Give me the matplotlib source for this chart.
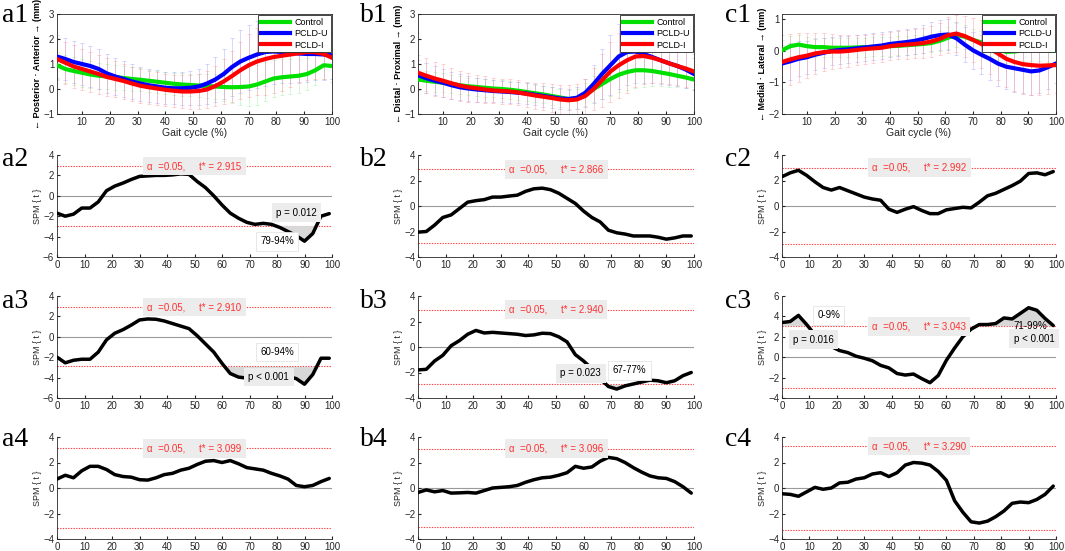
import numpy as np
import matplotlib
matplotlib.use("Agg")
import matplotlib.pyplot as plt

plt.rcParams['font.family'] = ['Liberation Sans', 'DejaVu Sans']
plt.rcParams['font.size'] = 7
plt.rcParams['axes.linewidth'] = 0.6
plt.rcParams['xtick.direction'] = 'in'
plt.rcParams['ytick.direction'] = 'in'
plt.rcParams['xtick.major.size'] = 2
plt.rcParams['ytick.major.size'] = 2
plt.rcParams['xtick.color'] = '#262626'
plt.rcParams['ytick.color'] = '#262626'
plt.rcParams['axes.edgecolor'] = '#262626'

# ---------------- data: top row (mean +/- SD, gait cycle 1..100) ----------------
gait = np.arange(1, 101, 3)
groups = ['Control', 'PCLD-U', 'PCLD-I']

a1_ctrl = [0.95, 0.8, 0.72, 0.65, 0.58, 0.53, 0.5, 0.48, 0.44, 0.4, 0.37, 0.33, 0.29, 0.25, 0.21, 0.18, 0.16,
           0.14, 0.12, 0.1, 0.08, 0.07, 0.08, 0.1, 0.18, 0.3, 0.42, 0.47, 0.5, 0.53, 0.6, 0.75, 0.95, 0.92]
a1_u = [1.3, 1.2, 1.08, 1.0, 0.92, 0.8, 0.62, 0.5, 0.4, 0.3, 0.22, 0.15, 0.1, 0.05, 0.03, 0.03, 0.05,
        0.1, 0.22, 0.38, 0.6, 0.88, 1.1, 1.25, 1.38, 1.48, 1.5, 1.48, 1.45, 1.42, 1.4, 1.4, 1.38, 1.35]
a1_i = [1.2, 1.05, 0.9, 0.8, 0.7, 0.6, 0.48, 0.4, 0.32, 0.22, 0.13, 0.07, 0.02, -0.03, -0.07, -0.1, -0.1,
        -0.08, -0.02, 0.12, 0.3, 0.52, 0.75, 0.95, 1.1, 1.2, 1.28, 1.33, 1.38, 1.43, 1.48, 1.47, 1.4, 1.25]
a1_ctrl_sd = [0.55, 0.55, 0.55, 0.55, 0.55, 0.52, 0.5, 0.5, 0.48, 0.47, 0.46, 0.45, 0.45, 0.45, 0.45, 0.45, 0.45,
              0.46, 0.48, 0.5, 0.55, 0.62, 0.7, 0.78, 0.8, 0.78, 0.75, 0.72, 0.7, 0.68, 0.65, 0.6, 0.55, 0.5]
a1_u_sd = [0.85, 0.85, 0.85, 0.83, 0.82, 0.8, 0.78, 0.75, 0.72, 0.7, 0.68, 0.66, 0.65, 0.64, 0.64, 0.65, 0.67,
           0.72, 0.8, 0.9, 1.0, 1.15, 1.25, 1.3, 1.35, 1.35, 1.3, 1.25, 1.2, 1.15, 1.1, 1.05, 1.0, 0.95]
a1_i_sd = [0.85, 0.85, 0.85, 0.82, 0.8, 0.78, 0.75, 0.72, 0.7, 0.68, 0.67, 0.66, 0.65, 0.65, 0.65, 0.66, 0.68,
           0.7, 0.74, 0.8, 0.9, 1.02, 1.15, 1.25, 1.35, 1.45, 1.45, 1.4, 1.3, 1.2, 1.1, 1.05, 1.0, 0.95]

b1_ctrl = [0.38, 0.33, 0.29, 0.25, 0.2, 0.15, 0.11, 0.08, 0.05, 0.02, 0.0, -0.03, -0.07, -0.12, -0.17, -0.22, -0.28,
           -0.34, -0.4, -0.38, -0.22, 0.0, 0.2, 0.4, 0.57, 0.68, 0.75, 0.75, 0.72, 0.66, 0.6, 0.53, 0.46, 0.38]
b1_u = [0.55, 0.43, 0.33, 0.25, 0.15, 0.07, 0.02, -0.02, -0.05, -0.08, -0.1, -0.12, -0.15, -0.18, -0.23, -0.28, -0.33,
        -0.38, -0.4, -0.35, -0.15, 0.2, 0.6, 0.95, 1.3, 1.48, 1.5, 1.4, 1.28, 1.15, 1.03, 0.92, 0.78, 0.6]
b1_i = [0.65, 0.53, 0.42, 0.33, 0.23, 0.14, 0.07, 0.03, -0.02, -0.06, -0.08, -0.1, -0.14, -0.2, -0.26, -0.31, -0.36,
        -0.42, -0.45, -0.42, -0.28, 0.0, 0.35, 0.7, 0.95, 1.15, 1.3, 1.32, 1.25, 1.15, 1.03, 0.92, 0.82, 0.7]
b1_ctrl_sd = [0.4, 0.4, 0.4, 0.38, 0.37, 0.36, 0.35, 0.35, 0.35, 0.35, 0.35, 0.35, 0.35, 0.35, 0.35, 0.35, 0.35,
              0.36, 0.38, 0.4, 0.45, 0.52, 0.6, 0.66, 0.7, 0.72, 0.7, 0.65, 0.6, 0.55, 0.5, 0.46, 0.43, 0.4]
b1_u_sd = [0.6, 0.6, 0.58, 0.56, 0.54, 0.52, 0.5, 0.48, 0.46, 0.44, 0.42, 0.42, 0.42, 0.42, 0.42, 0.42, 0.42,
           0.42, 0.42, 0.45, 0.55, 0.75, 1.0, 1.2, 1.3, 1.3, 1.25, 1.15, 1.05, 0.95, 0.88, 0.8, 0.72, 0.65]
b1_i_sd = [0.7, 0.7, 0.68, 0.66, 0.63, 0.6, 0.58, 0.55, 0.53, 0.5, 0.5, 0.5, 0.5, 0.5, 0.52, 0.54, 0.56,
           0.58, 0.6, 0.62, 0.7, 0.85, 1.05, 1.2, 1.3, 1.3, 1.22, 1.12, 1.0, 0.9, 0.82, 0.76, 0.72, 0.7]

c1_ctrl = [0.02, 0.15, 0.2, 0.15, 0.12, 0.12, 0.1, 0.1, 0.1, 0.11, 0.12, 0.13, 0.14, 0.15, 0.16, 0.18, 0.2,
           0.22, 0.25, 0.32, 0.42, 0.5, 0.45, 0.35, 0.27, 0.18, 0.05, -0.03, -0.02, 0.02, 0.04, 0.03, 0.01, 0.0]
c1_u = [-0.4, -0.33, -0.25, -0.2, -0.12, -0.06, 0.0, 0.03, 0.05, 0.08, 0.11, 0.14, 0.17, 0.22, 0.25, 0.28, 0.32,
        0.38, 0.45, 0.5, 0.52, 0.4, 0.2, 0.02, -0.12, -0.25, -0.4, -0.5, -0.55, -0.6, -0.65, -0.62, -0.52, -0.4]
c1_i = [-0.35, -0.27, -0.2, -0.15, -0.08, -0.04, -0.02, -0.02, 0.0, 0.03, 0.06, 0.08, 0.1, 0.15, 0.18, 0.2, 0.22,
        0.25, 0.3, 0.38, 0.5, 0.55, 0.47, 0.35, 0.22, 0.08, -0.08, -0.25, -0.35, -0.42, -0.45, -0.47, -0.46, -0.45]
c1_ctrl_sd = [0.32, 0.32, 0.32, 0.3, 0.3, 0.3, 0.3, 0.3, 0.3, 0.3, 0.3, 0.3, 0.3, 0.3, 0.3, 0.3, 0.3,
              0.3, 0.3, 0.32, 0.35, 0.38, 0.38, 0.36, 0.35, 0.35, 0.35, 0.35, 0.35, 0.35, 0.35, 0.35, 0.35, 0.35]
c1_u_sd = [0.6, 0.58, 0.55, 0.52, 0.5, 0.48, 0.45, 0.44, 0.42, 0.42, 0.42, 0.42, 0.42, 0.42, 0.42, 0.42, 0.42,
           0.44, 0.46, 0.48, 0.5, 0.52, 0.55, 0.58, 0.62, 0.66, 0.7, 0.72, 0.74, 0.75, 0.75, 0.72, 0.68, 0.62]
c1_i_sd = [0.85, 0.82, 0.78, 0.72, 0.66, 0.6, 0.55, 0.52, 0.5, 0.48, 0.46, 0.45, 0.45, 0.45, 0.45, 0.45, 0.46,
           0.48, 0.5, 0.52, 0.56, 0.6, 0.65, 0.7, 0.75, 0.8, 0.85, 0.9, 0.93, 0.95, 0.95, 0.92, 0.9, 0.88]

# ---------------- data: SPM{t} curves (gait cycle 0..99) ----------------
spm_x = np.arange(0, 100, 3)

a2_t = [-1.7, -2.0, -1.8, -1.2, -1.2, -0.6, 0.5, 0.95, 1.25, 1.6, 1.9, 1.95, 2.0, 2.0, 2.05, 2.15, 2.1,
        1.4, 0.8, 0.0, -0.9, -1.7, -2.2, -2.6, -2.8, -2.7, -2.8, -3.1, -3.5, -3.9, -4.45, -3.7, -2.0, -1.75]
a3_t = [-2.0, -2.55, -2.3, -2.2, -2.2, -1.5, -0.3, 0.35, 0.7, 1.15, 1.65, 1.75, 1.72, 1.55, 1.3, 1.05, 0.8,
        0.1, -0.7, -1.5, -2.6, -3.6, -3.95, -4.05, -4.1, -4.05, -4.0, -3.95, -3.9, -4.1, -4.65, -3.7, -2.1, -2.1]
a4_t = [0.7, 1.0, 0.8, 1.35, 1.7, 1.7, 1.45, 1.05, 0.9, 0.85, 0.65, 0.62, 0.8, 1.05, 1.15, 1.4, 1.55,
        1.85, 2.1, 2.15, 2.0, 2.15, 1.9, 1.6, 1.5, 1.4, 1.15, 0.95, 0.7, 0.2, 0.1, 0.2, 0.5, 0.75]
b2_t = [-2.05, -2.0, -1.5, -0.9, -0.7, -0.2, 0.3, 0.42, 0.5, 0.7, 0.7, 0.78, 0.85, 1.15, 1.35, 1.4, 1.28,
        1.0, 0.6, 0.2, -0.4, -0.9, -1.25, -1.9, -2.1, -2.2, -2.35, -2.35, -2.35, -2.45, -2.6, -2.5, -2.35, -2.35]
b3_t = [-1.8, -1.75, -1.1, -0.65, 0.1, 0.5, 1.0, 1.3, 1.1, 1.15, 1.1, 1.05, 1.0, 0.9, 0.95, 1.08, 1.05,
        0.8, 0.4, -0.6, -1.1, -1.7, -2.5, -3.1, -3.3, -3.05, -2.9, -2.75, -2.6, -2.65, -2.8, -2.65, -2.25, -2.0]
b4_t = [-0.35, -0.15, -0.3, -0.2, -0.4, -0.38, -0.35, -0.4, -0.2, 0.0, 0.05, 0.1, 0.2, 0.45, 0.65, 0.8, 0.85,
        1.0, 1.2, 1.7, 1.55, 1.65, 2.1, 2.4, 2.3, 2.0, 1.6, 1.25, 0.95, 0.8, 0.75, 0.5, 0.1, -0.4]
c2_t = [2.3, 2.6, 2.8, 2.4, 1.9, 1.45, 1.25, 1.45, 1.2, 0.95, 0.7, 0.55, 0.45, -0.25, -0.5, -0.25, -0.05,
        -0.35, -0.6, -0.6, -0.3, -0.2, -0.1, -0.15, 0.3, 0.8, 1.0, 1.3, 1.6, 1.95, 2.55, 2.6, 2.45, 2.7]
c3_t = [3.4, 3.5, 4.1, 3.2, 2.2, 1.5, 1.05, 0.65, 0.45, 0.1, -0.1, -0.35, -0.8, -1.05, -1.6, -1.75, -1.65,
        -2.1, -2.5, -1.8, -0.3, 0.9, 2.0, 2.75, 3.2, 3.2, 3.3, 3.85, 3.75, 4.3, 4.85, 4.6, 3.8, 3.1]
c4_t = [-0.45, -0.5, -0.65, -0.3, 0.05, -0.1, 0.0, 0.4, 0.45, 0.7, 0.8, 1.1, 1.2, 0.9, 1.2, 1.8, 2.0,
        1.95, 1.8, 1.3, 0.6, -1.0, -1.9, -2.65, -2.75, -2.6, -2.25, -1.8, -1.2, -1.1, -1.15, -0.9, -0.5, 0.15]

t_crit = {'a2': 2.915, 'a3': 2.910, 'a4': 3.099,
          'b2': 2.866, 'b3': 2.940, 'b4': 3.096,
          'c2': 2.992, 'c3': 3.043, 'c4': 3.290}

colors = ['#00e000', '#0000ff', '#ff0000']
bar_colors = ['#a0f0a0', '#a8a8ff', '#ffa0a0']

W, H = 1065, 551
fig = plt.figure(figsize=(W / 100, H / 100), dpi=100)

col_left = [57, 418, 782]
col_width = [275, 276, 274]
row_top = [14, 155, 296, 437]
row_bottom = [114, 257, 398, 539]


def make_ax(col, row):
    l = col_left[col] / W
    b = 1 - row_bottom[row] / H
    return fig.add_axes([l, b, col_width[col] / W, (row_bottom[row] - row_top[row]) / H])


# ---------------- top row ----------------
top_data = [
    ([a1_ctrl, a1_u, a1_i], [a1_ctrl_sd, a1_u_sd, a1_i_sd], (-1, 3), [-1, 0, 1, 2, 3],
     '← Posterior · Anterior → (mm)'),
    ([b1_ctrl, b1_u, b1_i], [b1_ctrl_sd, b1_u_sd, b1_i_sd], (-1, 3), [-1, 0, 1, 2, 3],
     '← Distal · Proximal → (mm)'),
    ([c1_ctrl, c1_u, c1_i], [c1_ctrl_sd, c1_u_sd, c1_i_sd], (-2, 1.17), [-2, -1, 0, 1],
     '← Medial · Lateral → (mm)'),
]

for col, (means, sds, ylim, yticks, ylabel) in enumerate(top_data):
    ax = make_ax(col, 0)
    for m, s, bc in zip(means, sds, bar_colors):
        ax.errorbar(gait, m, yerr=s, fmt='none', ecolor=bc, elinewidth=0.6,
                    capsize=1.5, capthick=0.6, alpha=0.55, zorder=1)
    for m, c, g in zip(means, colors, groups):
        ax.plot(gait, m, color=c, lw=3, label=g, zorder=3)
    ax.set_xlim(1, 100)
    ax.set_ylim(*ylim)
    ax.set_xticks(range(10, 101, 10))
    ax.set_yticks(yticks)
    ax.set_xlabel('Gait cycle (%)', fontsize=7.5, labelpad=1, color='#262626')
    ax.set_ylabel(ylabel, fontsize=6.5, fontweight='bold', labelpad=1)
    ax.tick_params(labelsize=7, pad=2)
    leg = ax.legend(loc='upper right', fontsize=6.5, frameon=True, fancybox=False,
                    edgecolor='#262626', framealpha=1, borderaxespad=0.15,
                    handlelength=3.2, handletextpad=0.5, borderpad=0.3, labelspacing=0.25)
    leg.get_frame().set_linewidth(0.6)
    for line in leg.get_lines():
        line.set_linewidth(3)

# ---------------- SPM rows ----------------
spm_panels = {
    'a2': (0, 1, a2_t, (-6, 4)), 'a3': (0, 2, a3_t, (-6, 4)), 'a4': (0, 3, a4_t, (-4, 4)),
    'b2': (1, 1, b2_t, (-4, 4)), 'b3': (1, 2, b3_t, (-4, 4)), 'b4': (1, 3, b4_t, (-4, 4)),
    'c2': (2, 1, c2_t, (-4, 4)), 'c3': (2, 2, c3_t, (-4, 6)), 'c4': (2, 3, c4_t, (-4, 4)),
}

gray_box = dict(boxstyle='square,pad=0.45', facecolor='#ececec', edgecolor='none')
white_box = dict(boxstyle='square,pad=0.45', facecolor='white', edgecolor='#e4e4e4', linewidth=0.6)

axes = {}
for name, (col, row, t, ylim) in spm_panels.items():
    ax = make_ax(col, row)
    axes[name] = ax
    ts = t_crit[name]
    t = np.array(t)
    ax.plot(spm_x, t, color='black', lw=2.5, zorder=3, solid_capstyle='round')
    ax.axhline(0, color='#9a9a9a', lw=0.8, zorder=1)
    ax.axhline(ts, color='#ff4040', lw=0.8, ls=(0, (1.2, 1.2)), zorder=1)
    ax.axhline(-ts, color='#ff4040', lw=0.8, ls=(0, (1.2, 1.2)), zorder=1)
    ax.fill_between(spm_x, t, ts, where=t > ts, interpolate=True, color='#d8d8d8', lw=0, zorder=2)
    ax.fill_between(spm_x, t, -ts, where=t < -ts, interpolate=True, color='#d8d8d8', lw=0, zorder=2)
    ax.text(50, ts, 'α  =0.05,     t* = %.3f' % ts, color='#ff3030', fontsize=7,
            ha='center', va='center', bbox=gray_box, zorder=5)
    ax.set_xlim(0, 100)
    ax.set_ylim(*ylim)
    ax.set_xticks(range(0, 101, 10))
    ax.set_yticks(range(ylim[0], ylim[1] + 1, 2))
    ax.spines['top'].set_visible(False)
    ax.spines['right'].set_visible(False)
    ax.set_ylabel('SPM { t }', fontsize=6.5, labelpad=1, color='#262626')
    ax.tick_params(labelsize=7, pad=2)

# cluster annotations
axes['a2'].text(87, -1.67, 'p = 0.012', fontsize=7, ha='center', va='center', bbox=gray_box, zorder=5)
axes['a2'].text(80, -4.45, '79-94%', fontsize=7, ha='center', va='center', bbox=white_box, zorder=5)
axes['a3'].text(80, -1.5, '60-94%', fontsize=7, ha='center', va='center', bbox=white_box, zorder=5)
axes['a3'].text(77, -3.95, 'p < 0.001', fontsize=7, ha='center', va='center', bbox=gray_box, zorder=5)
axes['b3'].text(59, -2.05, 'p = 0.023', fontsize=7, ha='center', va='center', bbox=gray_box, zorder=5)
axes['b3'].text(76.6, -1.82, '67-77%', fontsize=7, ha='center', va='center', bbox=white_box, zorder=5)
axes['c3'].text(17, 4.1, '0-9%', fontsize=7, ha='center', va='center', bbox=white_box, zorder=5)
axes['c3'].text(11.5, 1.7, 'p = 0.016', fontsize=7, ha='center', va='center', bbox=gray_box, zorder=5)
axes['c3'].text(90.5, 3.1, '71-99%', fontsize=7, ha='center', va='center', zorder=5)
axes['c3'].text(92, 1.8, 'p < 0.001', fontsize=7, ha='center', va='center', bbox=gray_box, zorder=5)

# panel labels
label_x = [2, 360, 725]
label_y = [15, 159, 301, 440]
for ci, letter in enumerate('abc'):
    for ri in range(4):
        fig.text(label_x[ci] / W, 1 - label_y[ri] / H, '%s%d' % (letter, ri + 1),
                 family='Liberation Serif', fontsize=20, ha='left', va='center')

fig.savefig('out.png', dpi=100)
